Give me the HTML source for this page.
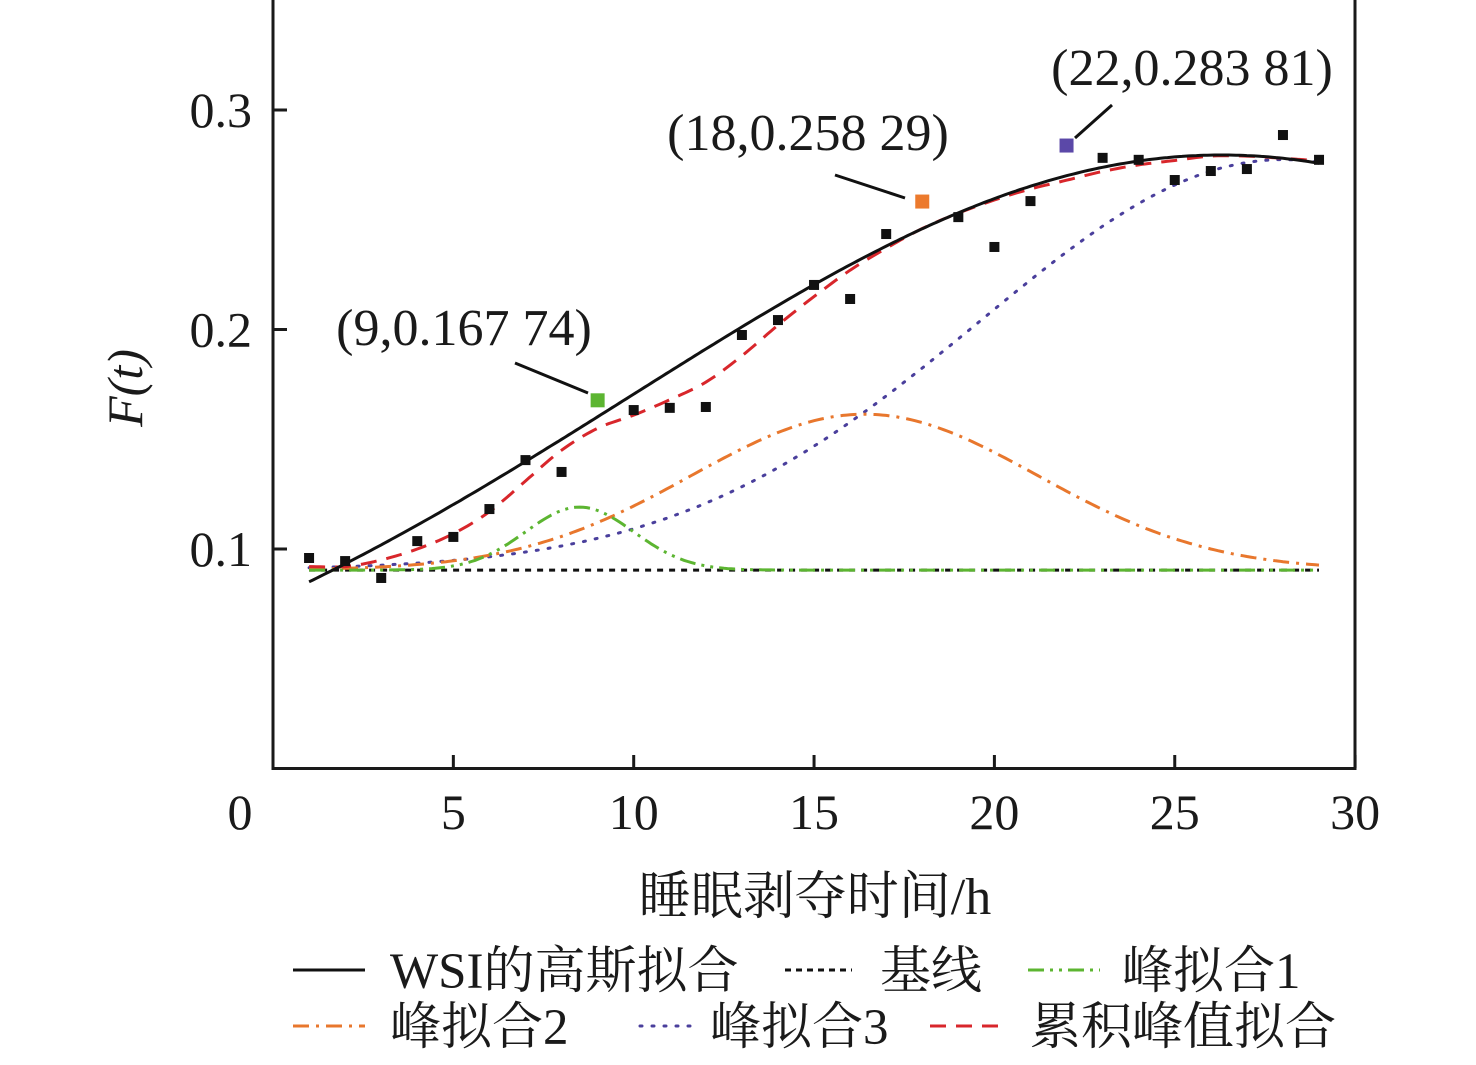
<!DOCTYPE html>
<html><head><meta charset="utf-8"><style>
body{margin:0;background:#fff}
svg text{font-family:"Liberation Serif","Noto Serif CJK SC",serif;fill:#1a1a1a}
</style></head><body>
<svg id="c" width="1476" height="1060" xmlns="http://www.w3.org/2000/svg"></svg>
<script>
const xValues=[1,2,3,4,5,6,7,8,9,10,11,12,13,14,15,16,17,18,19,20,21,22,23,24,25,26,27,28,29];
const yValues=[0.0959,0.0945,0.0868,0.1036,0.1055,0.1182,0.1405,0.1351,0.16774,0.1633,0.1643,0.1647,0.1975,0.2043,0.2203,0.2139,0.2435,0.25829,0.2512,0.2376,0.2585,0.28381,0.2782,0.2773,0.2681,0.2722,0.2731,0.2886,0.2773];
const cumulativeValues=[0.092,0.092,0.095,0.100,0.107,0.117,0.131,0.145,0.155,0.161,0.168,0.176,0.188,0.202,0.215,0.227,0.237,0.246,0.253,0.259,0.264,0.268,0.272,0.275,0.277,0.279,0.279,0.278,0.277];
const highlightX=[9,18,22];
const highlightColors=["#5cb531","#ec7a2d","#5b48a8"];
const highlightLabels=["(9,0.167 74)","(18,0.258 29)","(22,0.283 81)"];
const xTicks=[5,10,15,20,25,30];
const yTicks=[0.1,0.2,0.3];
const baseline=0.0904;
const peak1=[0.0287,8.5,1.5];
const peak2=[0.071,16.4,4.8];
const peak3=[0.187,28,8.4];
const wsiFit=[0.2795,26.3,16.4];

const S=document.getElementById('c');const NS='http://www.w3.org/2000/svg';
const X=v=>273+v*36.07, Y=v=>768.5-v*2195;
function el(t,a,p){const e=document.createElementNS(NS,t);for(const k in a)e.setAttribute(k,a[k]);(p||S).appendChild(e);return e;}
const g=(p,x)=>p[0]*Math.exp(-((x-p[1])**2)/(2*p[2]*p[2]));
function curve(f,name,st){let d='';for(let x=1;x<=29.001;x+=0.1)d+=(d?'L':'M')+X(x).toFixed(1)+','+Y(f(x)).toFixed(1);const e=el('path',Object.assign({d:d,fill:'none'},st));

}
function interp(x){const i=Math.min(Math.floor(x)-1,xValues.length-2),t=x-xValues[i];
const p0=cumulativeValues[Math.max(i-1,0)],p1=cumulativeValues[i],p2=cumulativeValues[i+1],p3=cumulativeValues[Math.min(i+2,cumulativeValues.length-1)];
return 0.5*((2*p1)+(-p0+p2)*t+(2*p0-5*p1+4*p2-p3)*t*t+(-p0+3*p1-3*p2+p3)*t*t*t);}
curve(x=>baseline,'baseline-line',{stroke:'#111','stroke-width':3,'stroke-dasharray':'6 6'});
curve(x=>baseline+g(peak3,x),'peak-fit-3-line',{stroke:'#4a3f9c','stroke-width':3,'stroke-dasharray':'2 10','stroke-linecap':'round'});
curve(x=>baseline+g(peak2,x),'peak-fit-2-line',{stroke:'#e8772d','stroke-width':3,'stroke-dasharray':'16 7 3 7'});
curve(x=>baseline+g(peak1,x),'peak-fit-1-line',{stroke:'#5cb531','stroke-width':3,'stroke-dasharray':'16 6 3 6 3 6'});
curve(interp,'cumulative-fit-line',{stroke:'#d8262b','stroke-width':3,'stroke-dasharray':'16 10'});
curve(x=>g(wsiFit,x),'wsi-gaussian-fit-line',{stroke:'#111','stroke-width':3});
xValues.forEach((x,i)=>{const h=highlightX.indexOf(x);const s=h>=0?14:10;
const r=el('rect',{x:X(x)-s/2,y:Y(yValues[i])-s/2,width:s,height:s,fill:h>=0?highlightColors[h]:'#111'});

});
const ann=[[464,345,[515,363,588,393]],[808,150,[835,175,905,198]],[1192,85,[1112,105,1075,138]]];
ann.forEach((a,i)=>{const t=el('text',{x:a[0],y:a[1],'font-size':52,'text-anchor':'middle'});t.textContent=highlightLabels[i];


const l=el('line',{x1:a[2][0],y1:a[2][1],x2:a[2][2],y2:a[2][3],stroke:'#111','stroke-width':3});

});
const box=el('rect',{x:273,y:-2,width:1082,height:770.5,fill:'none',stroke:'#1a1a1a','stroke-width':3});


xTicks.forEach(v=>{const l=el('line',{x1:X(v),x2:X(v),y1:768,y2:755,stroke:'#1a1a1a','stroke-width':3});


const t=el('text',{x:X(v),y:829,'font-size':50,'text-anchor':'middle'});t.textContent=v;

});
yTicks.forEach(v=>{const l=el('line',{x1:273,x2:287,y1:Y(v),y2:Y(v),stroke:'#1a1a1a','stroke-width':3});


const t=el('text',{x:252,y:Y(v)+17,'font-size':50,'text-anchor':'end'});t.textContent=v.toFixed(1);

});
const z=el('text',{x:240,y:829,'font-size':50,'text-anchor':'middle'});z.textContent='0';


const yt=el('text',{x:0,y:0,'font-size':50,'text-anchor':'middle',transform:'translate(142,388) rotate(-90)','font-style':'italic'});yt.textContent='F(t)';


const xt=el('text',{x:815,y:914,'font-size':52,'text-anchor':'middle'});xt.textContent='睡眠剥夺时间/h';


const leg=[[293,365,970,390,'WSI的高斯拟合',{stroke:'#111','stroke-width':3}],
[785,852,970,880,'基线',{stroke:'#111','stroke-width':3,'stroke-dasharray':'6 5'}],
[1028,1100,970,1122,'峰拟合1',{stroke:'#5cb531','stroke-width':3,'stroke-dasharray':'16 6 3 6 3 6'}],
[293,365,1026,390,'峰拟合2',{stroke:'#e8772d','stroke-width':3,'stroke-dasharray':'16 7 3 7'}],
[640,695,1026,710,'峰拟合3',{stroke:'#4a3f9c','stroke-width':3,'stroke-dasharray':'2 10','stroke-linecap':'round'}],
[930,1005,1026,1030,'累积峰值拟合',{stroke:'#d8262b','stroke-width':3,'stroke-dasharray':'16 10'}]];
leg.forEach(L=>{const l=el('line',Object.assign({x1:L[0],x2:L[1],y1:L[2],y2:L[2]},L[5]));


const t=el('text',{x:L[3],y:L[2]+18,'font-size':51});t.textContent=L[4];

});
</script>
</body></html>
